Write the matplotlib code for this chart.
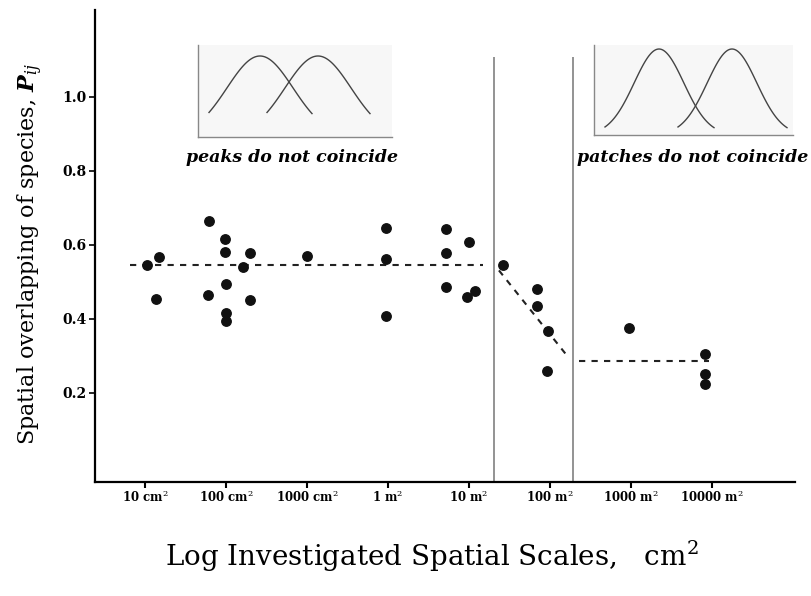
import numpy as np
import matplotlib.pyplot as plt

plt.rcParams['font.family'] = 'DejaVu Serif'
plt.rcParams['mathtext.fontset'] = 'custom'
plt.rcParams['mathtext.rm'] = 'DejaVu Serif'
plt.rcParams['mathtext.it'] = 'DejaVu Serif:italic'
plt.rcParams['mathtext.bf'] = 'DejaVu Serif:bold:italic'

# x positions are log10 of the investigated area in cm2
scale_ticks = [1, 2, 3, 4, 5, 6, 7, 8]
scale_labels = [r'10 cm$^2$', r'100 cm$^2$', r'1000 cm$^2$', r'1 m$^2$',
                r'10 m$^2$', r'100 m$^2$', r'1000 m$^2$', r'10000 m$^2$']

log_scale = [1.02, 1.17, 1.14,
             1.79, 1.99, 1.99, 2.30, 2.21, 2.00, 1.78, 2.30, 2.00, 2.00,
             3.00,
             3.975, 3.975, 3.975,
             4.72, 4.72, 4.72, 5.00, 4.98, 5.08,
             5.42, 5.84, 5.84, 5.98, 5.96,
             6.97,
             7.92, 7.92, 7.92]
overlap = [0.546, 0.567, 0.453,
           0.665, 0.616, 0.580, 0.579, 0.540, 0.494, 0.465, 0.451, 0.417, 0.395,
           0.571,
           0.646, 0.561, 0.408,
           0.643, 0.579, 0.485, 0.609, 0.459, 0.476,
           0.546, 0.480, 0.435, 0.368, 0.258,
           0.375,
           0.305, 0.251, 0.224]

# dashed trend segments
plateau1_x = [0.815, 5.17]
plateau1_y = [0.546, 0.546]
decline_x = [5.37, 6.22]
decline_y = [0.531, 0.298]
plateau2_x = [6.36, 7.96]
plateau2_y = [0.286, 0.286]

# borders between the scale domains
borders = [5.31, 6.28]
border_top = 1.108

fig = plt.figure(figsize=(8.11, 5.96), dpi=100)
W, H = 811.0, 596.0

def px_rect(x0, y0, x1, y1):
    # pixel box (top-left origin) -> figure fraction rect
    return [x0 / W, 1 - y1 / H, (x1 - x0) / W, (y1 - y0) / H]

ax = fig.add_axes(px_rect(95, 10, 795, 482))
ax.set_xlim(0.383, 9.025)
ax.set_ylim(-0.041, 1.235)

ax.vlines(borders, -0.041, border_top, colors='#808080', lw=1.2, zorder=1)
for xs, ys in [(plateau1_x, plateau1_y), (decline_x, decline_y), (plateau2_x, plateau2_y)]:
    ax.plot(xs, ys, color='#222222', lw=1.5, dashes=(3, 3), zorder=2)
ax.plot(log_scale, overlap, 'o', color='#111111', ms=6.8, zorder=3)

for s in ['top', 'right']:
    ax.spines[s].set_visible(False)
for s in ['left', 'bottom']:
    ax.spines[s].set_linewidth(1.6)
ax.set_xticks(scale_ticks)
ax.set_xticklabels(scale_labels, fontsize=8.5, fontweight='bold')
ax.set_yticks([0.2, 0.4, 0.6, 0.8, 1.0])
ax.set_yticklabels(['0.2', '0.4', '0.6', '0.8', '1.0'], fontsize=10, fontweight='bold')
ax.tick_params(axis='x', length=4, width=1.5, pad=1)
ax.tick_params(axis='y', length=4, width=1.2, pad=2)

fig.text(432 / W, 1 - 556 / H, r'Log Investigated Spatial Scales,   cm$^2$',
         fontsize=20, ha='center', va='center')
fig.text(30 / W, 1 - 254 / H, r'Spatial overlapping of species, $\mathbf{P}_{ij}$',
         fontsize=16, ha='center', va='center', rotation=90)

# schematic insets
def bell(ax_in, centres, sigma, peak, xmin, xmax):
    for c in centres:
        xs = np.linspace(c - xmin, c + xmax, 100)
        ax_in.plot(xs, peak * np.exp(-(xs - c) ** 2 / (2 * sigma ** 2)),
                   color='#444444', lw=1.0)

ins1 = fig.add_axes(px_rect(198, 45, 392, 137))
ins1.set_xlim(0, 194)
ins1.set_ylim(0, 92)
bell(ins1, [62, 120], 33, 81, 51, 52)

ins2 = fig.add_axes(px_rect(594, 45, 793, 135))
ins2.set_xlim(0, 199)
ins2.set_ylim(0, 90)
bell(ins2, [65, 138], 24.8, 86, 54, 55)

for a in (ins1, ins2):
    a.set_facecolor('#f7f7f7')
    a.set_xticks([])
    a.set_yticks([])
    for s in ['top', 'right']:
        a.spines[s].set_visible(False)
    for s in ['left', 'bottom']:
        a.spines[s].set_color('#888888')
        a.spines[s].set_linewidth(1.0)

fig.text(186 / W, 1 - 158 / H, 'peaks do not coincide', fontsize=12.5,
         style='italic', fontweight='bold', ha='left', va='center')
fig.text(577 / W, 1 - 158 / H, 'patches do not coincide', fontsize=12.5,
         style='italic', fontweight='bold', ha='left', va='center')

fig.savefig('out.png', dpi=100)
